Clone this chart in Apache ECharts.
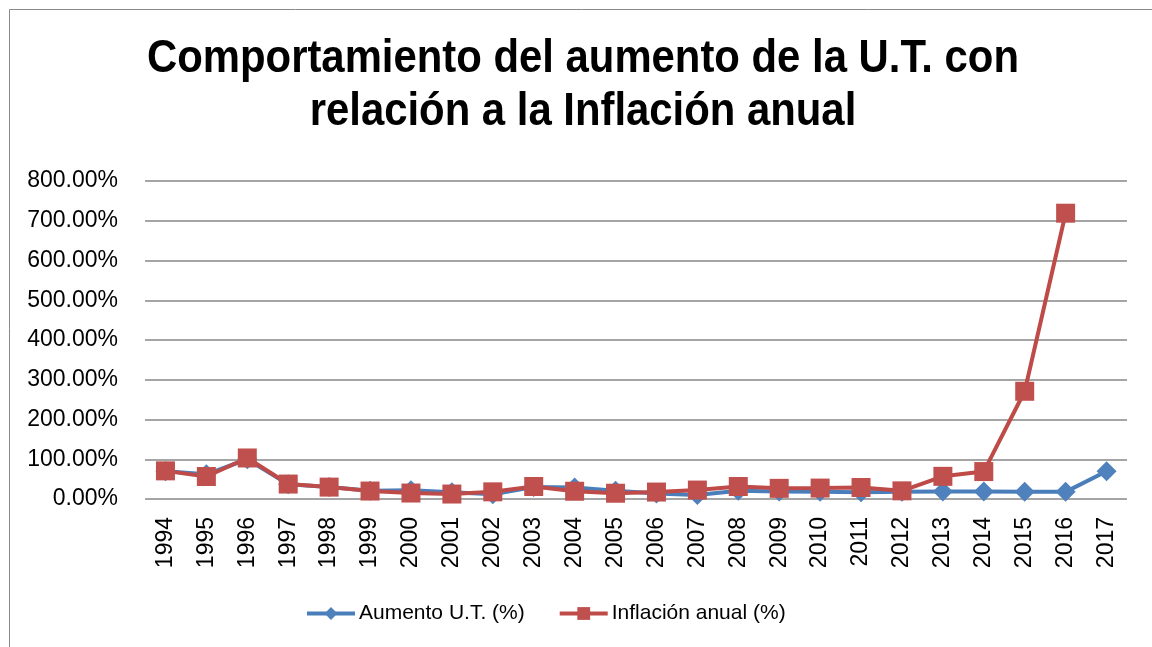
<!DOCTYPE html>
<html>
<head>
<meta charset="utf-8">
<script src="https://cdn.jsdelivr.net/npm/echarts@6/dist/echarts.min.js"></script>
<style>html,body{margin:0;padding:0;background:#fff}#c{width:1152px;height:647px}</style>
</head>
<body>
<div id="c"></div>
<script>
const years = ['1994','1995','1996','1997','1998','1999','2000','2001','2002','2003','2004','2005','2006','2007','2008','2009','2010','2011','2012','2013','2014','2015','2016','2017'];
const aumentoUT = [70, 62, 100, 37, 30, 21, 22, 17, 12, 30, 29, 21, 14, 10, 21, 19, 18, 17, 18, 19, 19, 18.5, 18, 70];
const inflacion = [70.8, 56.6, 103.2, 37.6, 29.9, 20.0, 15, 12.5, 18, 31.5, 19.5, 14.5, 17.5, 22.5, 31.5, 26.8, 27.5, 29, 20.5, 57, 69, 271, 719, null];
const yTicks = [0, 100, 200, 300, 400, 500, 600, 700, 800];
const titleLines = ['Comportamiento del aumento de la U.T. con', 'relación a la Inflación anual'];

const FONT = '"Liberation Sans", Arial, sans-serif';
const chart = echarts.init(document.getElementById('c'));
chart.setOption({
  animation: false,
  backgroundColor: '#fff',
  graphic: [
    { type: 'rect', silent: true,
      shape: { x: 9.5, y: 9.5, width: 1170, height: 670 },
      style: { fill: 'none', stroke: '#8a8a8a', lineWidth: 1 } },
    { type: 'text', silent: true, x: 583, y: 59, scaleX: 0.9,
      style: { text: titleLines[0], fontFamily: FONT, fontWeight: 'bold', fontSize: 46.5,
               fill: '#000', textAlign: 'center', textVerticalAlign: 'middle', verticalAlign: 'middle' } },
    { type: 'text', silent: true, x: 583, y: 112, scaleX: 0.9,
      style: { text: titleLines[1], fontFamily: FONT, fontWeight: 'bold', fontSize: 46.5,
               fill: '#000', textAlign: 'center', textVerticalAlign: 'middle', verticalAlign: 'middle' } }
  ],
  legend: {
    left: 305, top: 603, padding: 0,
    itemWidth: 48, itemHeight: 16, itemGap: 33,
    lineStyle: { width: 4 },
    textStyle: { fontFamily: FONT, fontSize: 21, color: '#000', padding: [0,0,0,-1] },
    data: ['Aumento U.T. (%)', 'Inflación anual (%)']
  },
  grid: { left: 145, right: 25, top: 181, bottom: 148, containLabel: false },
  xAxis: {
    type: 'category', data: years, boundaryGap: true,
    axisLine: { show: false }, axisTick: { show: false },
    axisLabel: { rotate: 90, margin: 18, fontFamily: FONT, fontSize: 23, color: '#000', interval: 0 }
  },
  yAxis: {
    type: 'value', min: yTicks[0], max: yTicks[yTicks.length-1], interval: 100,
    axisLine: { show: false }, axisTick: { show: false },
    splitLine: { lineStyle: { color: '#878787', width: 1.5 } },
    axisLabel: { margin: 27, fontFamily: FONT, fontSize: 23, color: '#000',
      formatter: v => v.toFixed(2) + '%' }
  },
  series: [
    { name: 'Aumento U.T. (%)', type: 'line', data: aumentoUT,
      symbol: 'diamond', symbolSize: 20, showAllSymbol: true,
      lineStyle: { color: '#4A7EBB', width: 4 },
      itemStyle: { color: '#4F81BD', borderWidth: 0 } },
    { name: 'Inflación anual (%)', type: 'line', data: inflacion,
      symbol: 'rect', symbolSize: 19, showAllSymbol: true,
      lineStyle: { color: '#BE4B48', width: 4 },
      itemStyle: { color: '#C0504D', borderWidth: 0 } }
  ]
});
</script>
</body>
</html>
